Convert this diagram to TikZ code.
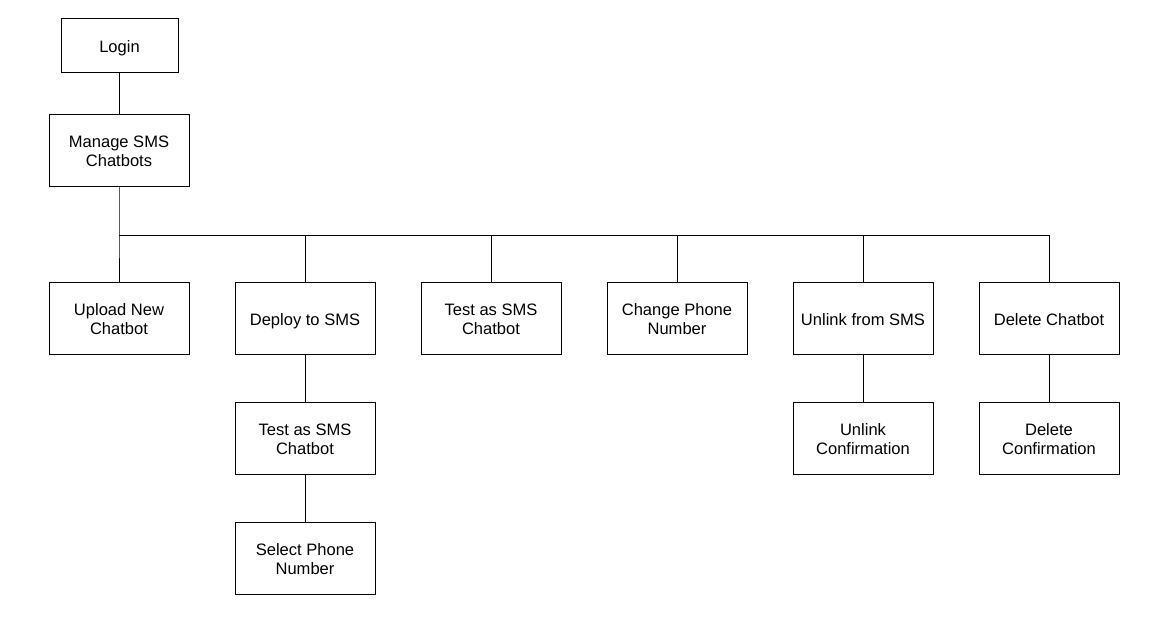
\documentclass[tikz,border=0pt]{standalone}
\usepackage{fontspec}
\setmainfont{Liberation Sans}
\begin{document}
\begin{tikzpicture}[x=0.75pt,y=-0.75pt,
  box/.style={draw=black,line width=0.75pt,fill=white,inner sep=0pt,
    minimum width=105pt,minimum height=54pt},
  lab/.style={align=center,inner sep=0pt,yshift=-3pt,font=\fontsize{12.4}{14}\selectfont,
    execute at begin node=\strut, execute at end node=\strut},
  txt/.style={label={[lab]center:{#1}}},
  conn/.style={draw=black,line width=0.75pt}]
\useasboundingbox (0,0) rectangle (1172,618);
\node[box,minimum width=87.75pt,minimum height=40.5pt,txt={Login}] (login) at (119.5,45) {};
\node[box,txt={Manage SMS\\Chatbots}] (manage) at (119,150) {};
\node[box,txt={Upload New\\Chatbot}] (upload) at (119,318) {};
\node[box,txt={Deploy to SMS}] (deploy) at (305,318) {};
\node[box,txt={Test as SMS\\Chatbot}] (test) at (491,318) {};
\node[box,txt={Change Phone\\Number}] (change) at (677,318) {};
\node[box,txt={Unlink from SMS}] (unlink) at (863,318) {};
\node[box,txt={Delete Chatbot}] (delete) at (1049,318) {};
\node[box,txt={Test as SMS\\Chatbot}] (test2) at (305,438) {};
\node[box,txt={Unlink\\Confirmation}] (unlinkc) at (863,438) {};
\node[box,txt={Delete\\Confirmation}] (deletec) at (1049,438) {};
\node[box,txt={Select Phone\\Number}] (select) at (305,558) {};
\coordinate (bus) at (119,235);
\draw[conn] (login.south) -- (login.south |- manage.north);
\draw[conn] (manage.south) -- (bus) -- (upload.north);
\foreach \c in {deploy,test,change,unlink,delete}
  \draw[conn] (bus) -| (\c.north);
\draw[conn] (deploy.south) -- (test2.north);
\draw[conn] (test2.south) -- (select.north);
\draw[conn] (unlink.south) -- (unlinkc.north);
\draw[conn] (delete.south) -- (deletec.north);
\end{tikzpicture}
\end{document}
